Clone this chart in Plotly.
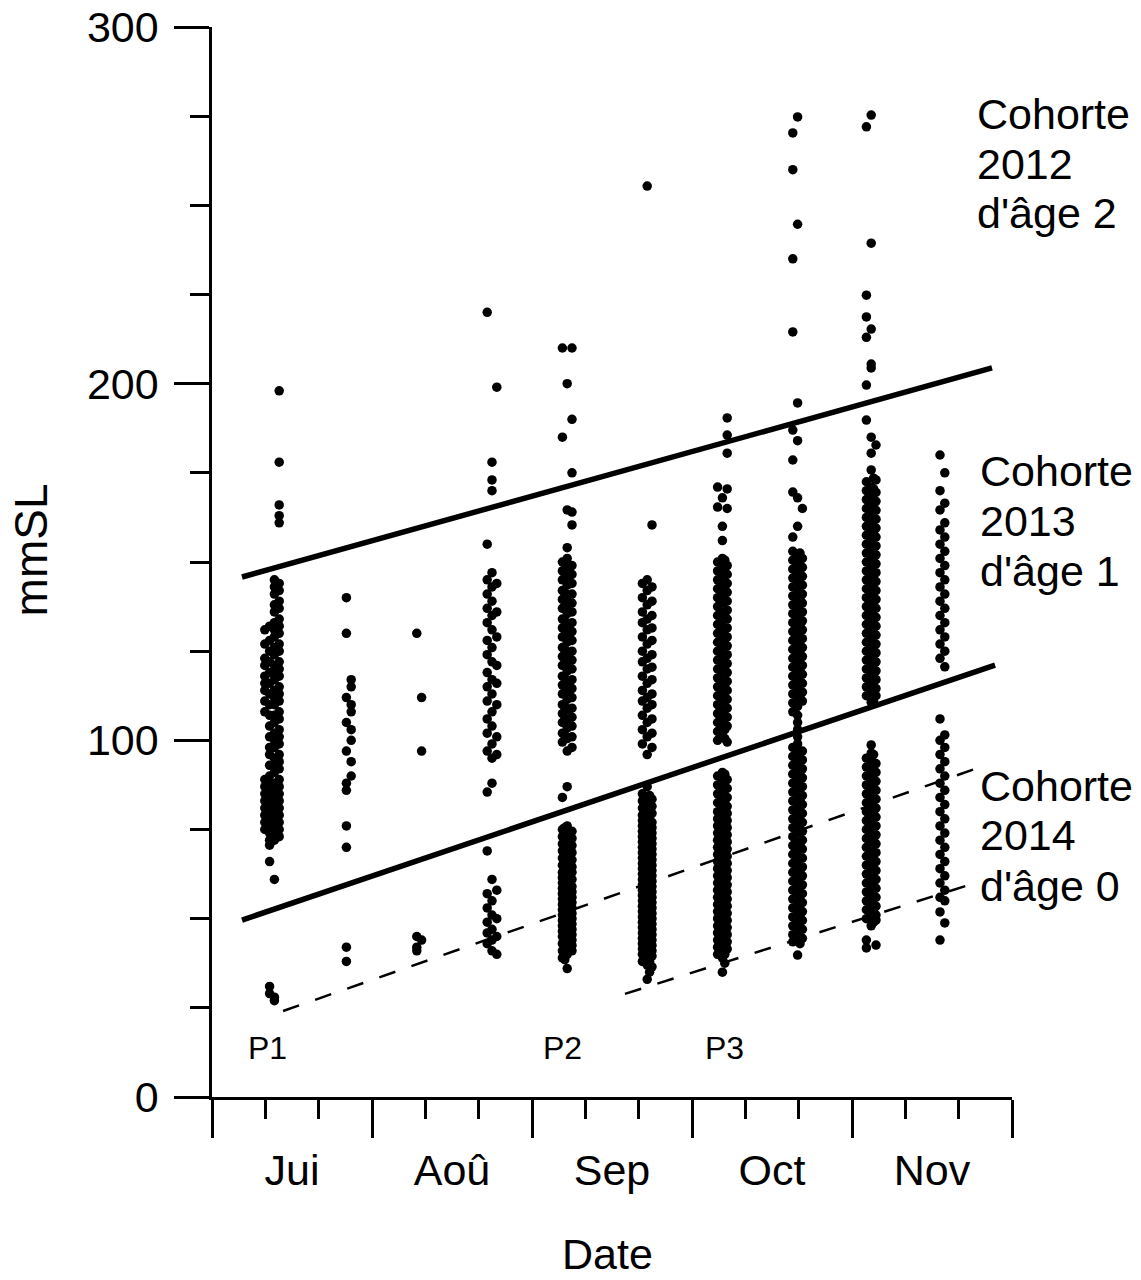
import plotly.graph_objects as go

FONT = "Liberation Sans, Arial, sans-serif"

# ---- axes (x in months since 1 July) ----
MONTH_LABELS = ["Jui", "Aoû", "Sep", "Oct", "Nov"]
MONTH_CENTERS = [0.5, 1.5, 2.5, 3.5, 4.5]
MONTH_STARTS = [0, 1, 2, 3, 4, 5]
DEKAD_TICKS = [1/3, 2/3, 4/3, 5/3, 7/3, 8/3, 10/3, 11/3, 13/3, 14/3]
Y_TICKS = [0, 100, 200, 300]
Y_MINOR = [25, 50, 75, 125, 150, 175, 225, 250, 275]

# ---- samples: capture dates (month units) and standard lengths (mm SL) ----
C1_DATES = [0.33, 0.36, 0.39, 0.42]
C1_A = [131, 127, 123, 121, 118, 116, 114, 111, 108, 89, 87, 85, 83, 81, 79, 77, 75]
C1_B = [132, 128, 125, 122, 119, 116, 113, 110, 107, 104, 101, 98, 96, 93, 90, 88, 86, 84, 82, 80, 78, 76, 74, 72, 70.6, 66, 31, 29]
C1_C = [145, 143, 141, 138, 136, 133, 131, 129, 126, 124, 121, 119, 117, 114, 112, 110, 107, 105, 102, 100, 98, 95, 93, 91, 88, 86, 84, 82, 80, 78, 76, 74, 72, 61, 28, 27]
C1_D = [198, 178, 166, 163, 161, 144, 142, 139, 137, 134, 132, 130, 127, 125, 122, 120, 118, 115, 113, 111, 108, 106, 103, 101, 99, 96, 94, 92, 89, 87, 85, 83, 81, 79, 77, 75, 73]

C2_DATES = [0.84, 0.87]
C2_A = [140, 130, 112, 105, 97, 88, 86, 76, 70, 42, 38]
C2_B = [117, 115, 110, 108, 103, 100, 94, 90]

C3_DATES = [1.28, 1.31]
C3_A = [130, 45, 42, 41]
C3_B = [112, 97, 44]

C4_DATES = [1.72, 1.75, 1.78]
C4_A = [220, 155, 145, 141, 137, 133, 128, 124, 119, 115, 111, 106, 102, 97, 85.5, 69, 57, 53, 49, 46, 43]
C4_B = [178, 173, 170, 147, 143, 139, 135, 131, 126, 122, 117, 113, 108, 104, 99, 95, 88, 61, 55, 51, 47, 44, 41]
C4_C = [199, 144, 136, 129, 121, 116, 110, 101, 96, 58, 50, 45, 40]

C5_DATES = [2.19, 2.22, 2.25, 2.205]
C5_A = [210, 185, 150, 147.5, 145, 142, 139.5, 137, 134, 131.5, 129, 126, 123.5, 121, 118, 115.5, 113, 110, 107.5, 105, 102, 99.5, 84,
        75, 73, 71, 69, 67, 65, 63, 61.5, 60, 58.5, 57, 55.5, 54, 52.5, 51, 49.5, 48, 46.5, 45, 43, 41, 39]
C5_B = [200, 164.6, 154, 151, 148.5, 146, 143.5, 140.5, 138, 135.5, 132.5, 130, 127.5, 124.5, 122, 119.5, 116.5, 114, 111.5, 108.5, 106, 103.5, 100.5, 97, 87,
        76, 74, 72, 70, 68, 66, 64, 62.5, 61, 59.5, 58, 56.5, 55, 53.5, 52, 50.5, 49, 47.5, 46, 44, 42, 40, 36]
C5_C = [210, 190, 175, 164, 160.4, 149, 146.5, 144, 141, 138.5, 136, 133, 130.5, 128, 125, 122.5, 120, 117, 114.5, 112, 109, 106.5, 104, 101, 98,
        74.5, 72.5, 70.5, 68.5, 66.5, 64.5, 63, 61, 59, 57.5, 56, 54.5, 53, 51.5, 50, 48.5, 47, 45.5, 44, 42.5, 41]
C5_D = [149.5, 145.5, 141.5, 137.5, 133.5, 129.5, 125.5, 121.5, 117.5, 113.5, 109.5, 105.5, 101.5,
        75.5, 73.5, 71.5, 69.5, 67.5, 65.5, 64, 62, 60.5, 59, 57.5, 56, 54.5, 53, 51.5, 50, 48.5, 47, 45.5, 44.5, 43.5, 42, 40.5, 38.5]

C6_DATES = [2.69, 2.72, 2.75, 2.735]
C6_A = [144, 140, 136, 133, 129, 125, 122, 118, 114, 111, 107, 103, 99,
        85, 83, 81, 79, 77.5, 76, 74.5, 73, 71.5, 70, 68.5, 67, 65.5, 64, 62.5, 61, 59.5, 58, 56.5, 55, 53.5, 52, 50.5, 49, 47.5, 46, 44.5, 43, 41.5, 40, 38]
C6_B = [255.4, 145, 142, 138, 134, 131, 127, 123, 120, 116, 112, 109, 105, 101, 96, 87,
        84, 82, 80, 78, 76.5, 75, 73.5, 72, 70.5, 69, 67.5, 66, 64.5, 63, 61.5, 60, 58.5, 57, 55.5, 54, 52.5, 51, 49.5, 48, 46.5, 45, 43.5, 42, 40.5, 39, 37, 33]
C6_C = [160.4, 143, 139, 135, 131.5, 128, 124, 120.5, 117, 113, 110, 106, 102, 98,
        83.5, 81.5, 79.5, 77, 75.5, 74, 72.5, 71, 69.5, 68, 66.5, 65, 63.5, 62, 60.5, 59, 57.5, 56, 54.5, 53, 51.5, 50, 48.5, 47, 45.5, 44, 42.5, 41, 39.5, 36.5]
C6_D = [84.5, 82.5, 80.5, 78.5, 77, 75.5, 74, 72.5, 71, 69.5, 68, 66.5, 65, 63.5, 62, 60.5, 59, 57.5, 56, 54.5, 53, 51.5, 50,
        48.5, 47, 45.5, 44, 42.5, 41, 39.5, 38, 35]

C7_DATES = [3.16, 3.19, 3.22, 3.205]
C7_A = [171, 165.4, 150, 147.5, 145, 142.5, 140, 137.5, 135, 132.5, 130, 127.5, 125, 122.5, 120, 117.5, 115, 112.5, 110, 107.5, 105, 102.5, 100,
        90, 87.5, 85, 82.5, 80, 78, 76, 74, 72, 70, 68, 66, 64, 62, 60, 58, 56, 54, 52, 50, 48, 46, 44, 42, 40]
C7_B = [168, 160, 156, 151, 148.5, 146, 143.5, 141, 138.5, 136, 133.5, 131, 128.5, 126, 123.5, 121, 118.5, 116, 113.5, 111, 108.5, 106, 103.5, 101,
        91, 88.5, 86, 83.5, 81, 79, 77, 75, 73, 71, 69, 67, 65, 63, 61, 59, 57, 55, 53, 51, 49, 47, 45, 43, 41, 39, 35]
C7_C = [190.4, 185.6, 180.5, 170.5, 165, 149, 146.5, 144, 141.5, 139, 136.5, 134, 131.5, 129, 126.5, 124, 121.5, 119, 116.5, 114, 111.5, 109, 106.5, 104, 99.5,
        89, 86.5, 84, 81.5, 79.5, 77.5, 75.5, 73.5, 71.5, 69.5, 67.5, 65.5, 63.5, 61.5, 59.5, 57.5, 55.5, 53.5, 51.5, 49.5, 47.5, 45.5, 43.5, 41.5]
C7_D = [150.5, 147, 143, 139, 135, 131, 127, 123, 119, 115, 111, 107, 103, 100.5,
        90.5, 87, 83, 79, 76, 73, 70, 67, 64, 61, 58, 55, 52, 49, 46, 43, 40, 37.5]

C8_DATES = [3.63, 3.66, 3.69, 3.675]
C8_A = [270.3, 260, 235, 214.5, 187, 178.6, 169.6, 157,
        153, 150.5, 148, 145.5, 143, 140.5, 138, 135.5, 133, 130.5, 128, 125.5, 123, 120.5, 118, 115.5, 113, 110.5, 108,
        98, 95.5, 93, 90.5, 88, 85.5, 83, 80.5, 78, 75.5, 73, 70.5, 68, 65.5, 63, 60.5, 58, 55.5, 53, 50.5, 48, 45.5, 43.5]
C8_B = [274.8, 244.7, 194.6, 184, 168, 160,
        152, 149.5, 147, 144.5, 142, 139.5, 137, 134.5, 132, 129.5, 127, 124.5, 122, 119.5, 117, 114.5, 112, 109.5, 107, 105, 103, 101, 99,
        96.5, 94, 91.5, 89, 86.5, 84, 81.5, 79, 76.5, 74, 71.5, 69, 66.5, 64, 61.5, 59, 56.5, 54, 51.5, 49, 46.5, 44, 39.8]
C8_C = [165, 151, 148.5, 146, 143.5, 141, 138.5, 136, 133.5, 131, 128.5, 126, 123.5, 121, 118.5, 116, 113.5, 111,
        97, 94.5, 92, 89.5, 87, 84.5, 82, 79.5, 77, 74.5, 72, 69.5, 67, 64.5, 62, 59.5, 57, 54.5, 52, 49.5, 47, 44.5]
C8_D = [152.5, 148, 144, 140, 136, 132, 128, 124, 120, 116, 112,
        95, 91, 87, 83, 79, 75, 71, 67, 63, 59, 55, 51, 47, 43]

C9_DATES = [4.09, 4.12, 4.15, 4.135]
C9_A = [272, 224.8, 218.7, 213, 199.6, 189.8,
        172.5, 170, 167.5, 165, 162.5, 160, 157.5, 155, 152.5, 150, 147.5, 145, 142.5, 140, 137.5, 135, 132.5, 130, 127.5, 125, 122.5, 120, 117.5, 115, 112.5,
        95, 92.5, 90, 87.5, 85, 82.5, 80, 77.5, 75, 72.5, 70, 67.5, 65, 62.5, 60, 57.5, 55, 52.5, 50, 44, 41.8]
C9_B = [275.3, 239.4, 215.3, 205.5, 204.4, 185, 180.5, 175.8,
        171, 168.5, 166, 163.5, 161, 158.5, 156, 153.5, 151, 148.5, 146, 143.5, 141, 138.5, 136, 133.5, 131, 128.5, 126, 123.5, 121, 118.5, 116, 113.5, 110.7,
        98.7, 96.4, 94, 91.5, 89, 86.5, 84, 81.5, 79, 76.5, 74, 71.5, 69, 66.5, 64, 61.5, 59, 56.5, 54, 51.5, 48]
C9_C = [182.8, 173, 169.5, 167, 164.5, 162, 159.5, 157, 154.5, 152, 149.5, 147, 144.5, 142, 139.5, 137, 134.5, 132, 129.5, 127, 124.5, 122, 119.5, 117, 114.5, 112.5,
        93.5, 91, 88.5, 86, 83.5, 81, 78.5, 76, 73.5, 71, 68.5, 66, 63.5, 61, 58.5, 56, 53.5, 51, 49.6, 42.6]
C9_D = [173.5, 170.5, 166, 162, 158, 154, 150, 146, 142, 138, 134, 130, 126, 122, 118, 114, 111,
        96, 92, 88, 84, 80, 76, 72, 68, 64, 60, 56, 52, 49]

C10_DATES = [4.55, 4.58]
C10_A = [180, 170, 164.6, 159, 155, 151, 147, 143, 139, 135, 131, 127, 123, 106, 100, 96, 92, 88, 84, 80, 76, 72, 68, 64, 60, 56, 51.9, 44]
C10_B = [175, 166.5, 161, 157, 153, 149, 145, 141, 137, 133, 129, 125, 120.6, 101.5, 98, 94, 90, 86, 82, 78, 74, 70, 66, 62, 58, 55, 48.8]

# ---- cohort separation lines (date, mm SL) ----
LINE_2012_2013_X = [0.1875, 4.875]
LINE_2012_2013_Y = [145.8, 204.4]
LINE_2013_2014_X = [0.1875, 4.894]
LINE_2013_2014_Y = [49.6, 121.1]
DASH_2014_UP_X = [0.444, 4.769]
DASH_2014_UP_Y = [24.1, 92.0]
DASH_2014_LOW_X = [2.581, 4.769]
DASH_2014_LOW_Y = [28.9, 60.0]

SAMPLES = [
    (C1_DATES, [C1_A, C1_B, C1_C, C1_D]),
    (C2_DATES, [C2_A, C2_B]),
    (C3_DATES, [C3_A, C3_B]),
    (C4_DATES, [C4_A, C4_B, C4_C]),
    (C5_DATES, [C5_A, C5_B, C5_C, C5_D]),
    (C6_DATES, [C6_A, C6_B, C6_C, C6_D]),
    (C7_DATES, [C7_A, C7_B, C7_C, C7_D]),
    (C8_DATES, [C8_A, C8_B, C8_C, C8_D]),
    (C9_DATES, [C9_A, C9_B, C9_C, C9_D]),
    (C10_DATES, [C10_A, C10_B]),
]

xs, ys = [], []
for dates, groups in SAMPLES:
    for d, vals in zip(dates, groups):
        xs.extend([d] * len(vals))
        ys.extend(vals)

fig = go.Figure()
fig.add_trace(go.Scatter(x=xs, y=ys, mode="markers",
                         marker=dict(symbol="circle", size=9.5, color="black", line=dict(width=0)),
                         showlegend=False, hoverinfo="skip"))
for lx, ly, w, dash in [
    (LINE_2012_2013_X, LINE_2012_2013_Y, 5.5, "solid"),
    (LINE_2013_2014_X, LINE_2013_2014_Y, 5.5, "solid"),
    (DASH_2014_UP_X, DASH_2014_UP_Y, 2.5, "17px,17px"),
    (DASH_2014_LOW_X, DASH_2014_LOW_Y, 2.5, "17px,17px"),
]:
    fig.add_trace(go.Scatter(x=lx, y=ly, mode="lines", line=dict(color="black", width=w, dash=dash),
                             showlegend=False, hoverinfo="skip"))
# invisible trace for label axis
fig.add_trace(go.Scatter(x=[0.5], y=[0], xaxis="x2", mode="markers", marker=dict(opacity=0),
                         showlegend=False, hoverinfo="skip"))

TXT = dict(family=FONT, size=43, color="black")

fig.update_layout(
    width=1141, height=1280,
    margin=dict(l=212, r=129, t=27, b=183, pad=0, autoexpand=False),
    paper_bgcolor="white", plot_bgcolor="white",
    font=TXT,
    xaxis=dict(range=[0, 5], showline=True, linecolor="black", linewidth=2.5, automargin=False,
               tickmode="array", tickvals=MONTH_STARTS, ticktext=[""] * 6,
               ticks="outside", ticklen=38, tickwidth=2.5, tickcolor="black",
               minor=dict(tickmode="array", tickvals=DEKAD_TICKS, ticks="outside", ticklen=19,
                          tickwidth=2.5, tickcolor="black", showgrid=False),
               showgrid=False, zeroline=False),
    xaxis2=dict(range=[0, 5], overlaying="x", anchor="y", side="bottom", automargin=False,
                tickmode="array", tickvals=MONTH_CENTERS, ticktext=MONTH_LABELS,
                ticks="", showline=False, showgrid=False, zeroline=False,
                tickfont=TXT, ticklabelstandoff=44),
    yaxis=dict(range=[0, 300], showline=True, linecolor="black", linewidth=2.5, automargin=False,
               tickmode="array", tickvals=Y_TICKS,
               ticks="outside", ticklen=35, tickwidth=2.5, tickcolor="black",
               minor=dict(tickmode="array", tickvals=Y_MINOR, ticks="outside", ticklen=19,
                          tickwidth=2.5, tickcolor="black", showgrid=False),
               showgrid=False, zeroline=False, tickfont=TXT, ticklabelstandoff=7),
)

ann = []
ann.append(dict(text="Date", xref="paper", yref="paper", x=0.494, y=-0.147,
                xanchor="center", yanchor="middle", showarrow=False, font=TXT))
ann.append(dict(text="mmSL", xref="paper", yref="paper", x=-0.226, y=0.511, textangle=-90,
                xanchor="center", yanchor="middle", showarrow=False,
                font=dict(family=FONT, size=46, color="black")))
COHORT_TEXT = [
    (0.954, ["Cohorte", "2012", "d'âge 2"], [275.6, 261.6, 247.8]),
    (0.9575, ["Cohorte", "2013", "d'âge 1"], [175.5, 161.5, 147.5]),
    (0.9575, ["Cohorte", "2014", "d'âge 0"], [87.2, 73.5, 59.2]),
]
for xp, lines, yvals in COHORT_TEXT:
    for t, yv in zip(lines, yvals):
        ann.append(dict(text=t, xref="paper", yref="y", x=xp, y=yv, xanchor="left", yanchor="middle",
                        showarrow=False, font=TXT))
PERIOD_LABELS = ["P1", "P2", "P3"]
PERIOD_X = [0.344, 2.1875, 3.206]
PERIOD_Y = [13.7, 13.7, 13.7]
for t, px, py in zip(PERIOD_LABELS, PERIOD_X, PERIOD_Y):
    ann.append(dict(text=t, xref="x", yref="y", x=px, y=py, xanchor="center", yanchor="middle",
                    showarrow=False, font=dict(family=FONT, size=32, color="black")))
fig.update_layout(annotations=ann)

fig.write_html("out.html")
